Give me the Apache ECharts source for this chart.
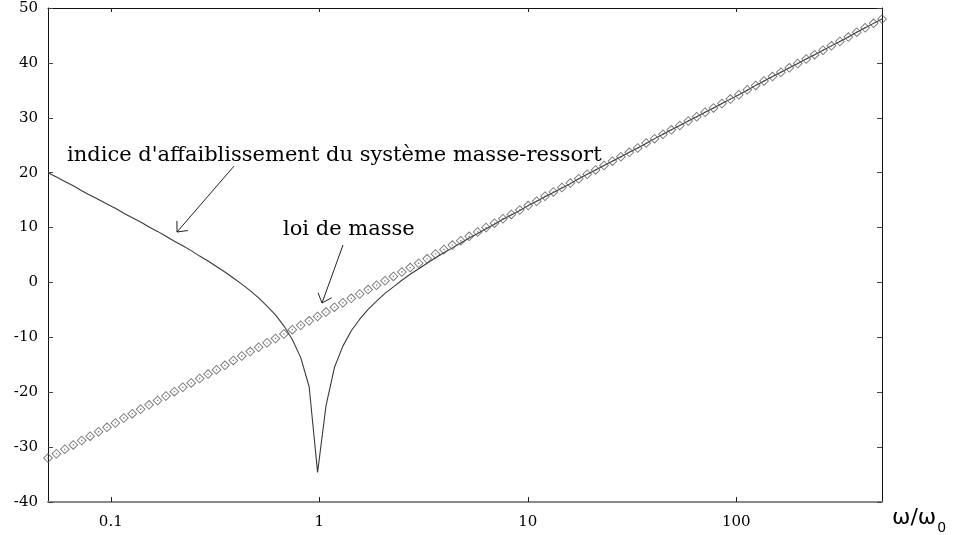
<!DOCTYPE html>
<html><head><meta charset="utf-8">
<script src="https://cdn.jsdelivr.net/npm/echarts@6/dist/echarts.min.js"></script>
<style>html,body{margin:0;padding:0;background:#fff}#c{width:954px;height:535px}</style>
</head><body><div id="c"></div>
<script>
// frequency ratio omega/omega0 (log-spaced samples)
const ratio = [
0.05, 0.05488, 0.06023, 0.0661, 0.07254, 0.07962, 0.08738, 0.0959, 0.1052, 0.1155,
0.1268, 0.1391, 0.1527, 0.1676, 0.1839, 0.2019, 0.2215, 0.2431, 0.2668, 0.2929,
0.3214, 0.3527, 0.3871, 0.4249, 0.4663, 0.5118, 0.5617, 0.6164, 0.6765, 0.7425,
0.8149, 0.8944, 0.9816, 1.077, 1.182, 1.298, 1.424, 1.563, 1.715, 1.883,
2.066, 2.268, 2.489, 2.731, 2.998, 3.29, 3.611, 3.963, 4.349, 4.773,
5.238, 5.749, 6.31, 6.925, 7.6, 8.341, 9.154, 10.05, 11.03, 12.1,
13.28, 14.58, 16.0, 17.56, 19.27, 21.15, 23.21, 25.47, 27.96, 30.68,
33.67, 36.96, 40.56, 44.51, 48.85, 53.62, 58.84, 64.58, 70.88, 77.79,
85.37, 93.7, 102.8, 112.9, 123.9, 135.9, 149.2, 163.7, 179.7, 197.2,
216.5, 237.6, 260.7, 286.1, 314.0, 344.7, 378.3, 415.1, 455.6, 500
];
// indice d'affaiblissement du système masse-ressort (dB)
const springLoss = [
20.0, 19.2, 18.4, 17.6, 16.7, 15.9, 15.1, 14.3, 13.5, 12.6,
11.8, 11.0, 10.1, 9.3, 8.4, 7.5, 6.7, 5.8, 4.8, 3.9,
2.9, 1.9, 0.8, -0.3, -1.5, -2.8, -4.3, -5.9, -7.9, -10.4,
-13.7, -19.0, -34.6, -22.5, -15.5, -11.6, -8.8, -6.7, -4.9, -3.4,
-2.0, -0.8, 0.4, 1.5, 2.5, 3.5, 4.5, 5.4, 6.3, 7.2,
8.1, 8.9, 9.8, 10.6, 11.5, 12.3, 13.1, 14.0, 14.8, 15.6,
16.4, 17.2, 18.0, 18.9, 19.7, 20.5, 21.3, 22.1, 22.9, 23.7,
24.5, 25.3, 26.2, 27.0, 27.8, 28.6, 29.4, 30.2, 31.0, 31.8,
32.6, 33.4, 34.2, 35.0, 35.9, 36.7, 37.5, 38.3, 39.1, 39.9,
40.7, 41.5, 42.3, 43.1, 43.9, 44.7, 45.6, 46.4, 47.2, 48.0
];
// loi de masse (dB)
const massLaw = [
-32.0, -31.2, -30.4, -29.6, -28.8, -28.0, -27.2, -26.4, -25.6, -24.7,
-23.9, -23.1, -22.3, -21.5, -20.7, -19.9, -19.1, -18.3, -17.5, -16.7,
-15.9, -15.1, -14.2, -13.4, -12.6, -11.8, -11.0, -10.2, -9.4, -8.6,
-7.8, -7.0, -6.2, -5.4, -4.5, -3.7, -2.9, -2.1, -1.3, -0.5,
0.3, 1.1, 1.9, 2.7, 3.5, 4.3, 5.2, 6.0, 6.8, 7.6,
8.4, 9.2, 10.0, 10.8, 11.6, 12.4, 13.2, 14.0, 14.8, 15.7,
16.5, 17.3, 18.1, 18.9, 19.7, 20.5, 21.3, 22.1, 22.9, 23.7,
24.5, 25.4, 26.2, 27.0, 27.8, 28.6, 29.4, 30.2, 31.0, 31.8,
32.6, 33.4, 34.2, 35.1, 35.9, 36.7, 37.5, 38.3, 39.1, 39.9,
40.7, 41.5, 42.3, 43.1, 43.9, 44.7, 45.6, 46.4, 47.2, 48.0
];
const xTickLabels = ['0.1', '1', '10', '100'];
const xRange = [0.05, 500];
const yRange = [-40, 50];
const yStep = 10;
const labelSpring = "indice d'affaiblissement du système masse-ressort";
const labelMass = "loi de masse";
const arrowSpring = [[0.39, 21.2], [0.2078, 9.19]];
const arrowMass = [[1.30, 6.82], [1.031, -3.75]];

const SERIF = '"DejaVu Serif", "Liberation Serif", serif';
const DIAMOND = 'path://M5,0L10,5L5,10L0,5Z M5,1.3L1.3,5L5,8.7L8.7,5Z M4.35,4.35L5.65,4.35L5.65,5.65L4.35,5.65Z';

const chart = echarts.init(document.getElementById('c'), null, {renderer: 'canvas'});

function xFmt(v) {
  const l = Math.log10(v);
  const r = Math.round(l);
  if (Math.abs(l - r) > 1e-6) return '';
  return xTickLabels[r + 1] || '';
}

const option = {
  animation: false,
  backgroundColor: '#fff',
  grid: {left: 48, right: 72, top: 8, bottom: 33, containLabel: false, outerBoundsMode: 'none'},
  xAxis: [
    {type: 'log', logBase: 10, min: xRange[0], max: xRange[1], position: 'bottom',
     axisLine: {show: true, onZero: false, lineStyle: {color: '#8a8a8a', width: 2}},
     axisTick: {show: true, inside: true, length: 5, lineStyle: {color: '#222'}},
     axisLabel: {formatter: xFmt, fontFamily: SERIF, fontSize: 15, color: '#000', margin: 13, showMinLabel: false, showMaxLabel: false},
     splitLine: {show: false}, minorTick: {show: false}},
    {type: 'log', logBase: 10, min: xRange[0], max: xRange[1], position: 'top',
     axisLine: {show: true, onZero: false, lineStyle: {color: '#111', width: 1}},
     axisTick: {show: true, inside: true, length: 4, lineStyle: {color: '#222'}},
     axisLabel: {show: false}, splitLine: {show: false}}
  ],
  yAxis: [
    {type: 'value', min: yRange[0], max: yRange[1], interval: yStep, position: 'left',
     axisLine: {show: true, onZero: false, lineStyle: {color: '#111', width: 1}},
     axisTick: {show: true, inside: true, length: 5, lineStyle: {color: '#444'}},
     axisLabel: {fontFamily: SERIF, fontSize: 15, color: '#000', margin: 10},
     splitLine: {show: false}},
    {type: 'value', min: yRange[0], max: yRange[1], interval: yStep, position: 'right',
     axisLine: {show: true, onZero: false, lineStyle: {color: '#111', width: 1}},
     axisTick: {show: true, inside: true, length: 5, lineStyle: {color: '#444'}},
     axisLabel: {show: false}, splitLine: {show: false}}
  ],
  series: [
    {name: labelSpring, type: 'line', xAxisIndex: 0, yAxisIndex: 0,
     data: ratio.map((x, i) => [x, springLoss[i]]),
     symbol: 'none', lineStyle: {color: '#3a3a3a', width: 1.1}, z: 2},
    {name: labelMass, type: 'scatter', xAxisIndex: 0, yAxisIndex: 0,
     data: ratio.map((x, i) => [x, massLaw[i]]),
     symbol: DIAMOND, symbolSize: 10, itemStyle: {color: '#555'}, z: 3}
  ]
};
chart.setOption(option);

function px(c) { return chart.convertToPixel({xAxisIndex: 0, yAxisIndex: 0}, c); }
function arrow(a, b) {
  const s = px(a), t = px(b);
  const dx = s[0] - t[0], dy = s[1] - t[1];
  const len = Math.hypot(dx, dy);
  const ux = dx / len, uy = dy / len;
  const ang = 0.72, L = 11;
  const rot = (x, y, q) => [x * Math.cos(q) - y * Math.sin(q), x * Math.sin(q) + y * Math.cos(q)];
  const r1 = rot(ux, uy, ang), r2 = rot(ux, uy, -ang);
  return [
    {type: 'line', z: 10, shape: {x1: s[0], y1: s[1], x2: t[0], y2: t[1]}, style: {stroke: '#222', lineWidth: 1}},
    {type: 'polyline', z: 10, shape: {points: [[t[0] + r1[0] * L, t[1] + r1[1] * L], [t[0], t[1]], [t[0] + r2[0] * L, t[1] + r2[1] * L]]},
     style: {stroke: '#222', fill: null, lineWidth: 1}}
  ];
}

chart.setOption({
  graphic: [].concat(
    arrow(arrowSpring[0], arrowSpring[1]),
    arrow(arrowMass[0], arrowMass[1]),
    [
      {type: 'text', left: 67, top: 145, z: 10, style: {text: labelSpring, font: '21px ' + SERIF, fill: '#000'}},
      {type: 'text', left: 283, top: 219, z: 10, style: {text: labelMass, font: '21px ' + SERIF, fill: '#000'}},
      {type: 'text', left: 892, top: 507, z: 10, style: {
        text: '{a|ω/ω}{b|0}',
        rich: {
          a: {fontFamily: '"DejaVu Sans", sans-serif', fontSize: 22, fill: '#000', verticalAlign: 'top'},
          b: {fontFamily: '"DejaVu Sans", sans-serif', fontSize: 14, fill: '#000', padding: [14, 0, 0, 1]}
        }
      }}
    ]
  )
});
</script>
</body></html>
